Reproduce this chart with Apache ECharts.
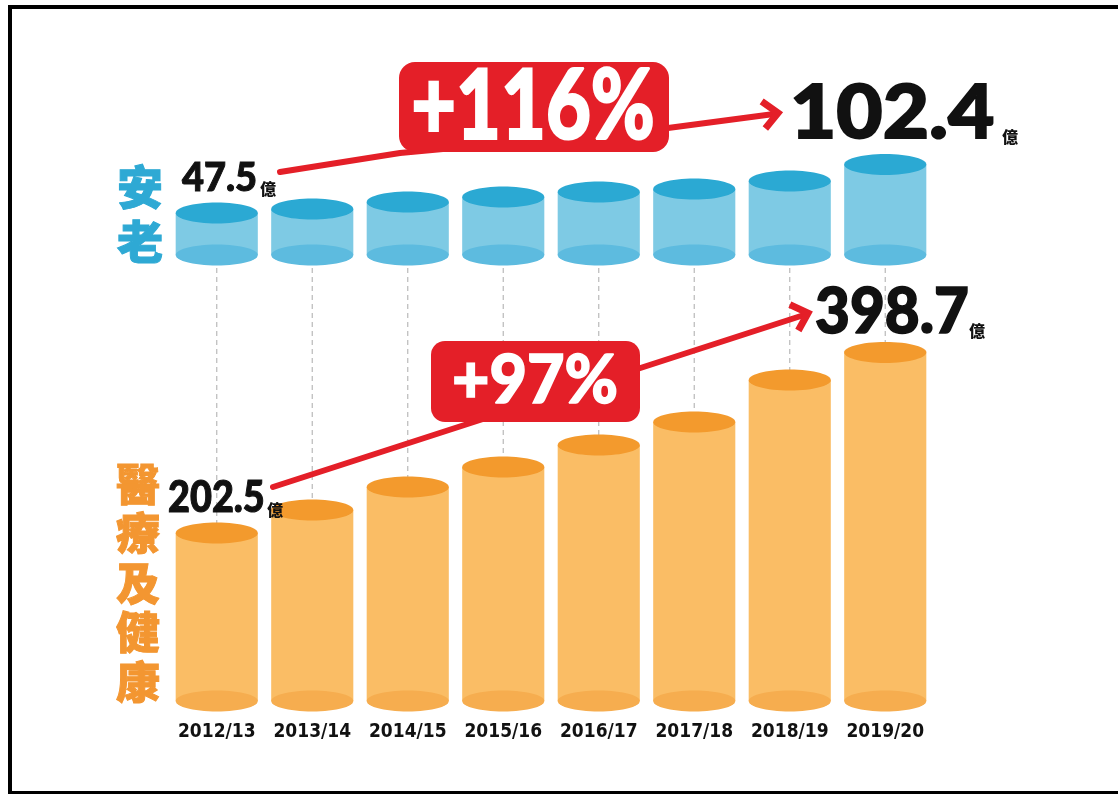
<!DOCTYPE html>
<html>
<head>
<meta charset="utf-8">
<script src="https://cdn.jsdelivr.net/npm/echarts@6/dist/echarts.min.js"></script>
<style>
html,body{margin:0;padding:0;background:#ffffff;}
#chart{width:1118px;height:794px;}
</style>
</head>
<body>
<div id="chart"></div>
<script>
// ---- data ----
var categories = ['2012/13', '2013/14', '2014/15', '2015/16', '2016/17', '2017/18', '2018/19', '2019/20'];
var elderlyValues = [47.5, 52.0, 59.9, 65.6, 71.3, 74.6, 83.7, 102.4];
var healthValues = [202.5, 227.5, 252.5, 274.2, 298.1, 323.1, 368.7, 398.7];
var elderlyName = '安老';
var healthName = '醫療及健康';
var unitText = '億';

// ---- helpers ----
var BLUE = { body: '#7ecae4', top: '#2ba9d3', bottom: '#5dbbdf' };
var ORANGE = { body: '#fabd65', top: '#f39a2d', bottom: '#f6ad4f' };
var RED = '#e41f28';
var NUM_FONT = 'Lato, "DejaVu Sans", sans-serif';
var CJK_FONT = '"Noto Sans CJK TC", "Noto Sans CJK SC", sans-serif';

function ellipsePts(cx, cy, rx, ry) {
  var p = [];
  for (var i = 0; i < 60; i++) {
    var a = i / 60 * Math.PI * 2;
    p.push([cx + rx * Math.cos(a), cy + ry * Math.sin(a)]);
  }
  return p;
}

function makeCylinder(colors, baseVal, dashFromY) {
  return function (params, api) {
    var idx = api.value(0);
    var v = api.value(1);
    var top = api.coord([idx, v]);
    var base = api.coord([idx, baseVal]);
    var w = api.size([1, 0])[0] * 0.86;
    var rx = w / 2, ry = 10.5;
    var cx = top[0];
    var children = [];
    if (dashFromY != null) {
      children.push({
        type: 'line',
        shape: { x1: cx, y1: dashFromY, x2: cx, y2: top[1] },
        style: { stroke: '#b9b9b9', lineWidth: 1.2, lineDash: [5, 4] }
      });
    }
    children.push({
      type: 'rect',
      shape: { x: cx - rx, y: top[1], width: w, height: base[1] - top[1] },
      style: { fill: colors.body }
    });
    children.push({
      type: 'polygon',
      shape: { points: ellipsePts(cx, base[1], rx, ry) },
      style: { fill: colors.bottom }
    });
    children.push({
      type: 'polygon',
      shape: { points: ellipsePts(cx, top[1], rx, ry) },
      style: { fill: colors.top }
    });
    return { type: 'group', children: children };
  };
}

function chevron(tip, from, len, ang) {
  var dx = from[0] - tip[0], dy = from[1] - tip[1];
  var a = Math.atan2(dy, dx);
  var a1 = a + ang, a2 = a - ang;
  return [
    [tip[0] + len * Math.cos(a1), tip[1] + len * Math.sin(a1)],
    tip,
    [tip[0] + len * Math.cos(a2), tip[1] + len * Math.sin(a2)]
  ];
}

function pct(a, b) { return '+' + Math.round((b / a - 1) * 100) + '%'; }

var elderlyData = elderlyValues.map(function (v, i) { return [i, v]; });
var healthData = healthValues.map(function (v, i) { return [i, v]; });

var eFirst = elderlyValues[0].toFixed(1), eLast = elderlyValues[elderlyValues.length - 1].toFixed(1);
var hFirst = healthValues[0].toFixed(1), hLast = healthValues[healthValues.length - 1].toFixed(1);

function numText(x, y, txt, size, sx, fill) {
  return {
    type: 'text', x: x, y: y, scaleX: sx, z: 50,
    style: { text: txt, x: 0, y: 0, align: 'left', verticalAlign: 'middle',
      fill: fill || '#111', stroke: fill || '#111', lineWidth: Math.max(1, size / 40),
      fontFamily: NUM_FONT, fontWeight: 900, fontSize: size }
  };
}
function unitEl(x, y) {
  return {
    type: 'text', x: x, y: y, z: 50,
    style: { text: unitText, x: 0, y: 0, align: 'left', verticalAlign: 'middle',
      fill: '#111', fontFamily: CJK_FONT, fontWeight: 900, fontSize: 16 }
  };
}

var graphics = [
  // frame
  { type: 'rect', z: 100, shape: { x: 10, y: 7, width: 1130, height: 786 },
    style: { fill: 'none', stroke: '#000', lineWidth: 4 } },
  // arrows
  { type: 'polyline', z: 10, shape: { points: [[280, 172], [400, 153], [668, 128], [774, 114]] },
    style: { stroke: RED, lineWidth: 6, fill: 'none', lineCap: 'round', lineJoin: 'round' } },
  { type: 'polyline', z: 10, shape: { points: chevron([778, 113], [668, 128], 20, 0.75) },
    style: { stroke: RED, lineWidth: 7, fill: 'none', lineJoin: 'miter', lineCap: 'butt' } },
  { type: 'polyline', z: 10, shape: { points: [[273, 487], [804, 315]] },
    style: { stroke: RED, lineWidth: 6, fill: 'none', lineCap: 'round' } },
  { type: 'polyline', z: 10, shape: { points: chevron([808, 313], [640, 368], 20, 0.75) },
    style: { stroke: RED, lineWidth: 7, fill: 'none', lineJoin: 'miter', lineCap: 'butt' } },
  // badges
  { type: 'rect', z: 20, shape: { x: 399, y: 62, width: 270, height: 90, r: 16 }, style: { fill: RED } },
  { type: 'text', z: 21, x: 533, y: 108, scaleX: 0.86, scaleY: 1.08,
    style: { text: pct(elderlyValues[0], elderlyValues[elderlyValues.length - 1]), x: 0, y: 0,
      align: 'center', verticalAlign: 'middle', fill: '#fff', stroke: '#fff', lineWidth: 2,
      fontFamily: NUM_FONT, fontWeight: 900, fontSize: 90 } },
  { type: 'rect', z: 20, shape: { x: 431, y: 341, width: 209, height: 81, r: 14 }, style: { fill: RED } },
  { type: 'text', z: 21, x: 535, y: 382, scaleX: 0.98,
    style: { text: pct(healthValues[0], healthValues[healthValues.length - 1]), x: 0, y: 0,
      align: 'center', verticalAlign: 'middle', fill: '#fff', stroke: '#fff', lineWidth: 1.5,
      fontFamily: NUM_FONT, fontWeight: 900, fontSize: 66 } },
  // value labels
  numText(182, 178, eFirst, 40, 0.95),
  unitEl(260, 189),
  numText(790, 114, eLast, 74, 1.08),
  unitEl(1002, 137),
  numText(815, 313, hLast, 62, 0.97),
  unitEl(969, 331),
  numText(168, 498, hFirst, 43, 0.88),
  unitEl(267, 510)
];

// vertical series titles
var eChars = elderlyName.split('');
var eY = [187, 242];
eChars.forEach(function (ch, i) {
  graphics.push({ type: 'text', z: 30, x: 140, y: eY[i],
    style: { text: ch, x: 0, y: 0, align: 'center', verticalAlign: 'middle',
      fill: '#2ea9d4', stroke: '#2ea9d4', lineWidth: 1,
      fontFamily: CJK_FONT, fontWeight: 900, fontSize: 46 } });
});
var hChars = healthName.split('');
hChars.forEach(function (ch, i) {
  graphics.push({ type: 'text', z: 30, x: 138, y: 484 + i * 49.5,
    style: { text: ch, x: 0, y: 0, align: 'center', verticalAlign: 'middle',
      fill: '#f39631', stroke: '#f39631', lineWidth: 1,
      fontFamily: CJK_FONT, fontWeight: 900, fontSize: 44 } });
});

var chart = echarts.init(document.getElementById('chart'), null, { renderer: 'canvas' });
chart.setOption({
  backgroundColor: '#ffffff',
  animation: false,
  grid: [
    { left: 169, right: 185, top: 122.4, height: 132.6 },
    { left: 169, right: 185, top: 259.2, height: 441.8 }
  ],
  xAxis: [
    { type: 'category', gridIndex: 0, data: categories, show: false },
    { type: 'category', gridIndex: 1, data: categories,
      axisLine: { show: false }, axisTick: { show: false },
      axisLabel: { interval: 0, margin: 22, color: '#111', fontSize: 19, fontWeight: 'bold',
        fontFamily: '"DejaVu Sans Condensed", "Liberation Sans Narrow", sans-serif' } }
  ],
  yAxis: [
    { type: 'value', gridIndex: 0, min: 0, max: 150, show: false },
    { type: 'value', gridIndex: 1, min: 20, max: 500, show: false }
  ],
  series: [
    { name: elderlyName, type: 'custom', xAxisIndex: 0, yAxisIndex: 0, data: elderlyData,
      encode: { x: 0, y: 1 }, clip: false, renderItem: makeCylinder(BLUE, 0, null) },
    { name: healthName, type: 'custom', xAxisIndex: 1, yAxisIndex: 1, data: healthData,
      encode: { x: 0, y: 1 }, clip: false, renderItem: makeCylinder(ORANGE, 20, 268) }
  ],
  graphic: graphics
});
</script>
</body>
</html>
